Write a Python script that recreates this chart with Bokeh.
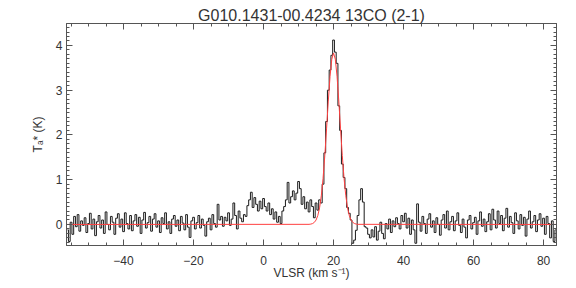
import numpy as np
from bokeh.plotting import figure
from bokeh.models import (Range1d, LinearAxis, SingleIntervalTicker,
                          CustomJSTickFormatter, ColumnDataSource)
from bokeh.embed import file_html
from bokeh.resources import INLINE

# ---------------- data ----------------
title_text = "G010.1431-00.4234 13CO (2-1)"
x_label = "VLSR (km s\u207b\u00b9)"
y_label = "T\u2090* (K)"

chan_start = -56.0   # km/s, first channel centre
chan_width = 0.5     # km/s

t_a = [
    -0.12, -0.38, 0.05, -0.22, 0.18, -0.05, 0.22, -0.15, 0.08, -0.02,
    0.15, -0.18, 0.02, 0.25, -0.10, 0.12, -0.25, 0.06, 0.20, -0.08,
    0.10, -0.20, 0.28, 0.00, -0.12, 0.18, 0.05, -0.22, 0.14, 0.24,
    -0.06, 0.12, -0.16, 0.26, 0.02, -0.10, 0.20, -0.14, 0.08, 0.22,
    -0.04, 0.16, -0.20, 0.10, 0.27, -0.08, 0.04, 0.18, -0.15, 0.12,
    0.24, -0.06, 0.08, -0.18, 0.15, 0.02, 0.26, -0.10, 0.06, -0.20,
    0.12, 0.20, -0.04, 0.10, -0.14, 0.18, 0.03, -0.12, 0.22, -0.06,
    -0.29, 0.08, 0.16, -0.10, 0.04, 0.20, -0.08, 0.12, -0.02, -0.26,
    0.06, 0.14, -0.12, 0.22, 0.02, -0.06, 0.45, 0.10, 0.18, -0.04,
    0.16, 0.08, 0.26, -0.02, 0.12, 0.48, 0.20, -0.10, 0.30, 0.14,
    0.06, 0.22, 0.18, 0.42, 0.55, 0.72, 0.38, 0.60, 0.45, 0.30,
    0.52, 0.35, 0.58, 0.40, 0.30, 0.48, 0.22, 0.35, 0.12, 0.28,
    0.05, 0.18, 0.02, 0.30, 0.40, 0.55, 0.94, 0.48, 0.62, 0.75,
    0.55, 0.70, 0.96, 0.80, 0.45, 0.62, 0.35, 0.50, 0.28, 0.55,
    0.40, 0.15, 0.48, 0.32, 0.55, 0.48, 0.90, 1.60, 2.30, 3.00,
    3.45, 3.78, 4.12, 3.85, 3.60, 2.65, 2.10, 1.35, 1.05, 0.80,
    0.38, 0.25, 0.10, -0.42, -0.35, -0.13, 0.20, 0.55, 0.80, 0.50,
    -0.05, -0.08, -0.22, -0.30, -0.12, -0.28, -0.05, -0.35, -0.15, 0.05,
    -0.20, -0.32, 0.02, -0.10, 0.12, -0.18, 0.08, -0.05, 0.15, 0.02,
    -0.10, 0.20, 0.06, 0.25, -0.08, 0.14, -0.22, 0.10, -0.12, -0.42,
    0.46, 0.05, -0.15, 0.18, 0.02, -0.20, 0.12, 0.24, -0.06, 0.08,
    -0.18, 0.15, 0.00, -0.24, 0.10, 0.22, -0.08, 0.30, -0.12, 0.06,
    0.18, -0.14, 0.08, 0.26, -0.02, -0.18, 0.12, -0.06, -0.30, 0.10,
    0.20, -0.10, 0.04, 0.16, -0.22, 0.08, 0.28, -0.04, 0.12, -0.16,
    0.06, 0.24, -0.12, 0.34, 0.10, -0.08, 0.30, 0.02, 0.20, -0.14,
    0.14, 0.36, -0.06, 0.18, 0.04, -0.20, 0.26, 0.08, -0.10, 0.22,
    -0.02, 0.16, -0.26, 0.12, 0.30, -0.08, 0.06, 0.20, -0.16, 0.10,
    0.24, -0.04, 0.14, -0.22, 0.18, 0.02, -0.30, 0.08, -0.38, -0.12,
]

fit_vel = [-57.0, 13.0, 13.5, 14.0, 14.5, 15.0, 15.5, 16.0, 16.5, 17.0,
           17.5, 18.0, 18.5, 19.0, 19.5, 20.0, 20.5, 21.0, 21.5, 22.0,
           22.5, 23.0, 23.5, 24.0, 24.5, 25.0, 25.5, 26.0, 26.5, 27.0, 85.0]
fit_ta = [0.0, 0.003, 0.008, 0.020, 0.046, 0.099, 0.199, 0.370, 0.640, 1.028,
          1.537, 2.135, 2.757, 3.309, 3.693, 3.830, 3.693, 3.309, 2.757, 2.135,
          1.537, 1.028, 0.640, 0.370, 0.199, 0.099, 0.046, 0.020, 0.008, 0.003, 0.0]

x_range = (-56.3, 83.7)
y_range = (-0.47, 4.49)

vel = chan_start + chan_width * np.arange(len(t_a))

# ---------------- figure ----------------
FONT = "Liberation Sans"
AX_COL = "#555555"
TXT_COL = "#333333"

p = figure(width=576, height=288, output_backend="svg", toolbar_location=None,
           x_range=Range1d(*x_range), y_range=Range1d(*y_range),
           min_border_left=66, min_border_right=20, min_border_top=23,
           min_border_bottom=43)
p.grid.visible = False
p.outline_line_color = AX_COL
p.background_fill_color = "white"
p.border_fill_color = "white"

p.title.text = title_text
p.title.align = "center"
p.title.text_font = FONT
p.title.text_font_size = "16px"
p.title.text_font_style = "normal"
p.title.text_color = TXT_COL
p.title.standoff = 0
p.title.offset = 0

spec_src = ColumnDataSource(dict(v=vel, t=t_a))
fit_src = ColumnDataSource(dict(v=fit_vel, t=fit_ta))
p.step("v", "t", source=spec_src, mode="center", line_color="#1a1a1a", line_width=1)
p.line("v", "t", source=fit_src, line_color="#ff4040", line_width=1)


def style_axis(ax, ticker, labels=True, standoff=5):
    ax.ticker = ticker
    ax.axis_line_color = AX_COL
    ax.major_tick_line_color = AX_COL
    ax.minor_tick_line_color = AX_COL
    ax.major_tick_in = 6
    ax.major_tick_out = 0
    ax.minor_tick_in = 3
    ax.minor_tick_out = 0
    ax.major_label_text_font = FONT
    ax.major_label_text_color = TXT_COL
    ax.major_label_standoff = standoff
    if labels:
        ax.major_label_text_font_size = "12px"
    else:
        ax.major_label_text_font_size = "0px"
        ax.formatter = CustomJSTickFormatter(code="return ''")
        ax.major_label_standoff = 0


def xt():
    return SingleIntervalTicker(interval=20, num_minor_ticks=4)


def yt():
    return SingleIntervalTicker(interval=1, num_minor_ticks=10)


xb = p.xaxis[0]
style_axis(xb, xt(), True, 10)
xb.axis_label = x_label
xb.axis_label_text_font = FONT
xb.axis_label_text_font_size = "12px"
xb.axis_label_text_font_style = "normal"
xb.axis_label_text_color = TXT_COL
xb.axis_label_standoff = -2

yl = p.yaxis[0]
style_axis(yl, yt(), True, 4)
yl.axis_label = y_label
yl.axis_label_text_font = FONT
yl.axis_label_text_font_size = "12px"
yl.axis_label_text_font_style = "normal"
yl.axis_label_text_color = TXT_COL
yl.axis_label_standoff = 8

xtop = LinearAxis()
style_axis(xtop, xt(), False)
p.add_layout(xtop, "above")

yright = LinearAxis()
style_axis(yright, yt(), False)
p.add_layout(yright, "right")

open("out.html", "w").write(file_html(p, INLINE))
